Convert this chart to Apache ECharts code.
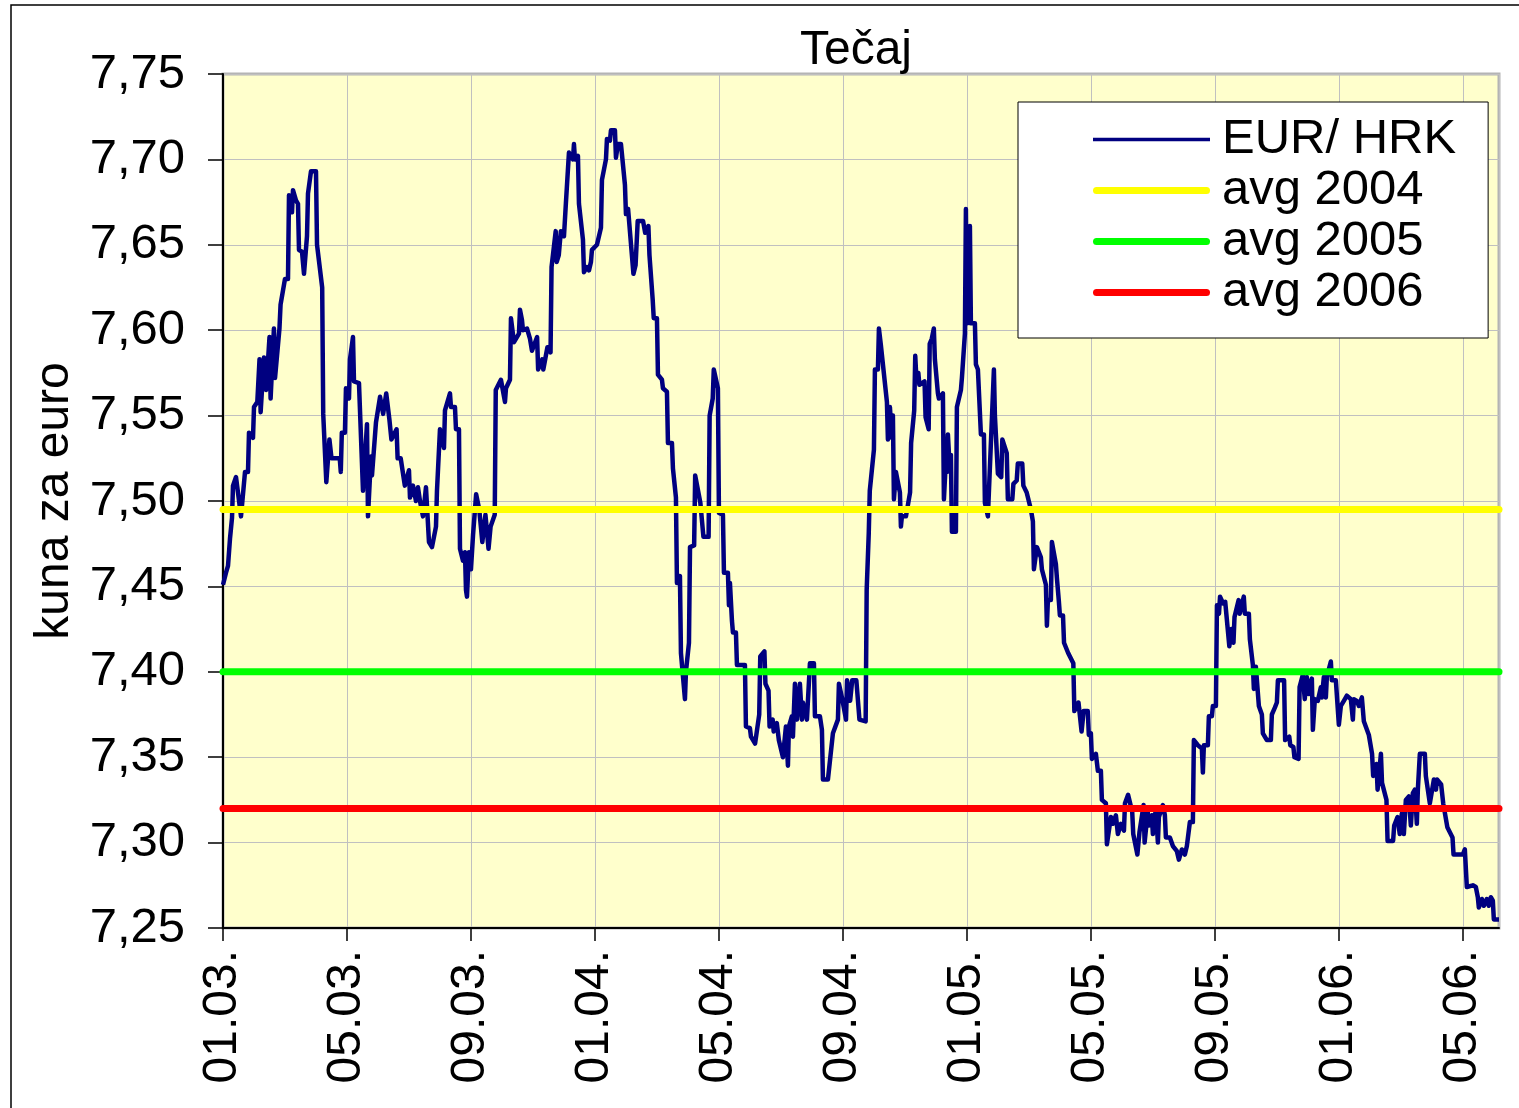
<!DOCTYPE html>
<html>
<head>
<meta charset="utf-8">
<title>Tečaj</title>
<script src="https://cdn.jsdelivr.net/npm/echarts@6/dist/echarts.min.js"></script>
<style>
html, body { margin: 0; padding: 0; background: #fff; }
#chart { width: 1519px; height: 1108px; }
</style>
</head>
<body>
<div id="chart"></div>
<script>
// dani od 01.01.2003. i tecaj EUR/HRK
var days = [
  0, 3, 5, 7, 9, 10, 13, 18, 22, 25, 26, 30, 31, 34, 36, 37, 40, 42, 45, 46, 49, 50, 54, 55, 59, 62, 63, 66, 67, 70,
  72, 73, 76, 78, 81, 82, 85, 90, 91, 96, 97, 100, 103, 105, 113, 114, 115, 118, 119, 122, 123, 126, 127, 132, 136, 140, 141, 144, 145, 149,
  153, 156, 159, 162, 164, 169, 170, 173, 177, 181, 182, 185, 188, 190, 192, 195, 198, 200, 201, 204, 208, 209, 212, 216, 217, 222, 223, 227, 228, 231,
  232, 235, 237, 238, 239, 241, 243, 245, 248, 251, 254, 257, 260, 262, 266, 267, 272, 276, 277, 281, 282, 285, 290, 291, 293, 294, 298, 301, 303, 308,
  309, 313, 314, 318, 321, 322, 326, 327, 329, 331, 334, 336, 339, 343, 344, 345, 348, 349, 353, 354, 357, 359, 361, 362, 367, 371, 372, 376, 377, 380,
  381, 385, 386, 388, 391, 395, 396, 398, 403, 405, 407, 412, 414, 417, 418, 421, 422, 425, 426, 430, 431, 435, 436, 440, 441, 444, 445, 448, 449, 453,
  454, 457, 458, 462, 463, 468, 471, 476, 477, 480, 481, 485, 486, 490, 491, 495, 496, 497, 499, 500, 503, 504, 512, 513, 517, 518, 522, 526, 527, 531,
  532, 535, 536, 539, 540, 543, 545, 549, 552, 554, 555, 558, 559, 561, 563, 566, 568, 569, 573, 576, 580, 581, 586, 588, 589, 594, 599, 604, 605, 608,
  612, 613, 616, 618, 622, 625, 631, 632, 634, 635, 639, 640, 643, 644, 646, 648, 652, 653, 655, 657, 658, 659, 661, 665, 666, 667, 671, 675, 676, 679,
  680, 681, 683, 684, 689, 690, 693, 694, 696, 698, 699, 702, 703, 707, 708, 710, 711, 712, 714, 715, 716, 720, 721, 725, 726, 729, 730, 731, 734, 735,
  739, 740, 742, 744, 745, 748, 749, 752, 758, 759, 761, 762, 765, 766, 770, 771, 775, 776, 779, 780, 784, 785, 788, 792, 794, 795, 797, 798, 802, 803,
  807, 808, 809, 812, 813, 817, 818, 820, 821, 824, 825, 829, 834, 835, 839, 842, 844, 848, 849, 851, 852, 856, 858, 861, 862, 866, 867, 871, 873, 876,
  878, 881, 884, 885, 888, 892, 893, 897, 899, 903, 904, 907, 908, 911, 912, 915, 917, 918, 922, 924, 925, 929, 932, 936, 938, 941, 944, 946, 948, 949,
  952, 953, 957, 961, 962, 963, 967, 968, 971, 972, 975, 976, 978, 979, 982, 984, 988, 990, 992, 993, 997, 998, 1002, 1003, 1007, 1008, 1011, 1012, 1014, 1016,
  1017, 1020, 1021, 1025, 1029, 1030, 1033, 1035, 1036, 1042, 1043, 1047, 1048, 1051, 1052, 1056, 1057, 1060, 1062, 1064, 1066, 1069, 1070, 1072, 1075, 1078, 1079, 1081, 1083, 1084,
  1088, 1089, 1093, 1096, 1098, 1101, 1104, 1108, 1110, 1111, 1114, 1116, 1119, 1121, 1126, 1129, 1130, 1133, 1134, 1137, 1138, 1142, 1143, 1148, 1149, 1152, 1154, 1156, 1158, 1160,
  1163, 1165, 1167, 1169, 1171, 1172, 1174, 1179, 1180, 1184, 1188, 1190, 1191, 1195, 1197, 1201, 1206, 1207, 1211, 1216, 1218, 1220, 1226, 1229, 1231, 1232, 1235, 1237, 1240, 1242,
  1244, 1246, 1247, 1252
];
var rates = [
  7.451, 7.458, 7.462, 7.478, 7.490, 7.509, 7.514, 7.491, 7.517, 7.517, 7.540, 7.537, 7.555, 7.558, 7.583, 7.552, 7.584, 7.565, 7.596, 7.560, 7.601, 7.572, 7.601, 7.615, 7.630, 7.630, 7.679, 7.669, 7.682, 7.676,
  7.674, 7.647, 7.646, 7.633, 7.655, 7.680, 7.693, 7.693, 7.650, 7.625, 7.551, 7.511, 7.536, 7.525, 7.525, 7.517, 7.540, 7.540, 7.566, 7.560, 7.583, 7.596, 7.570, 7.569, 7.506, 7.545, 7.491, 7.526, 7.515, 7.546,
  7.561, 7.551, 7.563, 7.548, 7.536, 7.542, 7.525, 7.525, 7.509, 7.518, 7.502, 7.509, 7.500, 7.508, 7.500, 7.491, 7.508, 7.508, 7.476, 7.473, 7.485, 7.506, 7.542, 7.531, 7.553, 7.563, 7.555, 7.555, 7.542, 7.542,
  7.472, 7.465, 7.470, 7.448, 7.444, 7.470, 7.460, 7.480, 7.504, 7.495, 7.476, 7.492, 7.472, 7.485, 7.492, 7.565, 7.571, 7.558, 7.566, 7.571, 7.607, 7.593, 7.598, 7.612, 7.606, 7.600, 7.601, 7.595, 7.588, 7.596,
  7.577, 7.583, 7.577, 7.590, 7.587, 7.637, 7.658, 7.640, 7.644, 7.658, 7.655, 7.675, 7.704, 7.700, 7.709, 7.700, 7.702, 7.674, 7.653, 7.634, 7.637, 7.635, 7.640, 7.647, 7.650, 7.660, 7.688, 7.700, 7.712, 7.711,
  7.717, 7.717, 7.701, 7.709, 7.709, 7.685, 7.668, 7.671, 7.633, 7.638, 7.664, 7.664, 7.657, 7.661, 7.644, 7.618, 7.607, 7.607, 7.574, 7.571, 7.566, 7.564, 7.534, 7.534, 7.519, 7.502, 7.452, 7.456, 7.411, 7.384,
  7.400, 7.417, 7.473, 7.474, 7.515, 7.499, 7.479, 7.479, 7.550, 7.560, 7.577, 7.566, 7.493, 7.492, 7.458, 7.458, 7.439, 7.452, 7.430, 7.423, 7.423, 7.404, 7.404, 7.368, 7.367, 7.362, 7.358, 7.375, 7.409, 7.412,
  7.393, 7.389, 7.368, 7.372, 7.365, 7.370, 7.360, 7.350, 7.368, 7.345, 7.368, 7.374, 7.362, 7.393, 7.372, 7.393, 7.372, 7.382, 7.372, 7.405, 7.405, 7.374, 7.374, 7.366, 7.337, 7.337, 7.364, 7.372, 7.393, 7.385,
  7.372, 7.395, 7.383, 7.395, 7.395, 7.372, 7.371, 7.448, 7.481, 7.506, 7.530, 7.577, 7.577, 7.601, 7.591, 7.590, 7.558, 7.536, 7.555, 7.537, 7.550, 7.501, 7.517, 7.505, 7.485, 7.491, 7.491, 7.505, 7.534, 7.553,
  7.585, 7.573, 7.575, 7.568, 7.570, 7.549, 7.542, 7.592, 7.595, 7.601, 7.583, 7.563, 7.560, 7.563, 7.501, 7.524, 7.517, 7.539, 7.517, 7.527, 7.482, 7.482, 7.555, 7.565, 7.572, 7.598, 7.671, 7.604, 7.661, 7.604,
  7.604, 7.580, 7.577, 7.577, 7.539, 7.539, 7.499, 7.491, 7.577, 7.550, 7.549, 7.516, 7.514, 7.536, 7.528, 7.501, 7.501, 7.510, 7.512, 7.522, 7.522, 7.509, 7.505, 7.495, 7.488, 7.460, 7.460, 7.473, 7.467, 7.460,
  7.451, 7.427, 7.442, 7.442, 7.476, 7.463, 7.455, 7.441, 7.433, 7.433, 7.417, 7.411, 7.405, 7.377, 7.382, 7.365, 7.377, 7.377, 7.363, 7.364, 7.349, 7.352, 7.342, 7.342, 7.325, 7.323, 7.299, 7.315, 7.311, 7.316,
  7.305, 7.311, 7.307, 7.323, 7.328, 7.318, 7.305, 7.293, 7.306, 7.322, 7.300, 7.318, 7.310, 7.316, 7.305, 7.320, 7.300, 7.315, 7.322, 7.316, 7.303, 7.303, 7.298, 7.295, 7.290, 7.296, 7.293, 7.298, 7.298, 7.312,
  7.312, 7.360, 7.357, 7.355, 7.341, 7.357, 7.357, 7.374, 7.374, 7.380, 7.380, 7.439, 7.434, 7.444, 7.440, 7.441, 7.415, 7.425, 7.417, 7.432, 7.442, 7.434, 7.444, 7.434, 7.434, 7.419, 7.404, 7.390, 7.403, 7.403,
  7.380, 7.375, 7.364, 7.360, 7.360, 7.375, 7.379, 7.382, 7.395, 7.395, 7.360, 7.362, 7.357, 7.356, 7.350, 7.349, 7.391, 7.398, 7.384, 7.397, 7.387, 7.396, 7.366, 7.384, 7.383, 7.391, 7.385, 7.397, 7.385, 7.397,
  7.406, 7.395, 7.395, 7.369, 7.380, 7.383, 7.386, 7.384, 7.372, 7.384, 7.383, 7.380, 7.385, 7.371, 7.363, 7.352, 7.339, 7.346, 7.331, 7.352, 7.335, 7.325, 7.301, 7.301, 7.310, 7.315, 7.305, 7.317, 7.305, 7.325,
  7.327, 7.310, 7.329, 7.331, 7.311, 7.331, 7.352, 7.352, 7.339, 7.323, 7.337, 7.331, 7.337, 7.334, 7.323, 7.309, 7.303, 7.293, 7.293, 7.293, 7.296, 7.274, 7.275, 7.274, 7.268, 7.262, 7.267, 7.263, 7.267, 7.263,
  7.268, 7.266, 7.255, 7.255
];

var avgNames = ['avg 2004', 'avg 2005', 'avg 2006'];
var avgValues = [7.495, 7.400, 7.320];
var avgColors = ['#ffff00', '#00ff00', '#ff0000'];

var yTicks = { min: 7.25, max: 7.75, step: 0.05 };
var xStepMonths = 4;

var font = "'Liberation Sans', Arial, sans-serif";

// ikone legende: tanka crta za tecaj, debele zaobljene za prosjeke
var thinIcon = 'path://M0,0H117V3.5H0Z';
var thickIcon = 'path://M3.5,0H113.5A3.5,3.5 0 0 1 113.5,7H3.5A3.5,3.5 0 0 1 3.5,0Z';

// dan -> mjeseci od sijecnja 2003 (razlomak)
function dayToMonth(d) {
  var dt = new Date(2003, 0, 1 + d);
  var y = dt.getFullYear(), m = dt.getMonth();
  var dim = new Date(y, m + 1, 0).getDate();
  return (y - 2003) * 12 + m + (dt.getDate() - 1) / dim;
}

function pad(n) { return (n < 10 ? '0' : '') + n; }

var lineData = days.map(function (d, i) { return [dayToMonth(d), rates[i]]; });
var xEnd = dayToMonth(days[days.length - 1]);

var series = [{
  name: 'EUR/ HRK',
  type: 'line',
  data: lineData,
  symbol: 'none',
  lineStyle: { color: '#000080', width: 4.5, join: 'round' },
  itemStyle: { color: '#000080' },
  z: 2
}];
avgNames.forEach(function (n, i) {
  series.push({
    name: n,
    type: 'line',
    data: [[0, avgValues[i]], [xEnd, avgValues[i]]],
    symbol: 'none',
    lineStyle: { color: avgColors[i], width: 7, cap: 'round' },
    itemStyle: { color: avgColors[i] },
    z: 3
  });
});

var legendData = [{ name: 'EUR/ HRK', icon: thinIcon }].concat(avgNames.map(function (n) {
  return { name: n, icon: thickIcon };
}));

var chart = echarts.init(document.getElementById('chart'));
chart.setOption({
  animation: false,
  backgroundColor: '#ffffff',
  textStyle: { fontFamily: font },
  title: {
    text: 'Tečaj',
    left: 851,
    textAlign: 'center',
    top: 22,
    textStyle: { fontFamily: font, fontSize: 48, fontWeight: 'normal', color: '#000' }
  },
  graphic: [{
    type: 'rect',
    shape: { x: 11, y: 5, width: 1600, height: 1200 },
    style: { fill: 'none', stroke: '#000', lineWidth: 1.5 },
    silent: true
  }],
  legend: {
    orient: 'vertical',
    left: 1018,
    top: 102,
    padding: [12, 32, 20, 75],
    itemGap: 0,
    itemWidth: 117,
    itemHeight: 14,
    symbolKeepAspect: true,
    backgroundColor: '#ffffff',
    borderColor: '#000',
    borderWidth: 1,
    textStyle: { fontFamily: font, fontSize: 49, lineHeight: 51, color: '#000', padding: [0, 0, 0, 7] },
    data: legendData
  },
  grid: {
    left: 223, right: 20, top: 74, bottom: 180,
    show: true,
    backgroundColor: '#ffffcc',
    borderColor: '#b4b4b4',
    borderWidth: 3
  },
  xAxis: {
    type: 'value',
    min: 0,
    max: xEnd,
    interval: xStepMonths,
    axisLine: { lineStyle: { color: '#000', width: 2 } },
    axisTick: { length: 13, lineStyle: { color: '#000', width: 1.5 } },
    splitLine: { lineStyle: { color: '#c0c0c0', width: 1 } },
    axisLabel: {
      rotate: 90,
      margin: 22,
      fontSize: 48,
      color: '#000',
      fontFamily: font,
      showMaxLabel: false,
      formatter: function (v) {
        if (Math.abs(v % xStepMonths) > 1e-6) return '';
        var y = 2003 + Math.floor(v / 12);
        var m = v % 12 + 1;
        return pad(m) + '.' + pad(y % 100) + '.';
      }
    }
  },
  yAxis: {
    type: 'value',
    min: yTicks.min,
    max: yTicks.max,
    interval: yTicks.step,
    name: 'kuna za euro',
    nameLocation: 'middle',
    nameGap: 143,
    nameTextStyle: { fontFamily: font, fontSize: 48, color: '#000' },
    axisLine: { show: true, lineStyle: { color: '#000', width: 2 } },
    axisTick: { show: true, length: 15, lineStyle: { color: '#000', width: 1.5 } },
    splitLine: { lineStyle: { color: '#c0c0c0', width: 1 } },
    axisLabel: {
      margin: 38,
      fontSize: 49,
      color: '#000',
      fontFamily: font,
      formatter: function (v) { return v.toFixed(2).replace('.', ','); }
    }
  },
  series: series
});
</script>
</body>
</html>
